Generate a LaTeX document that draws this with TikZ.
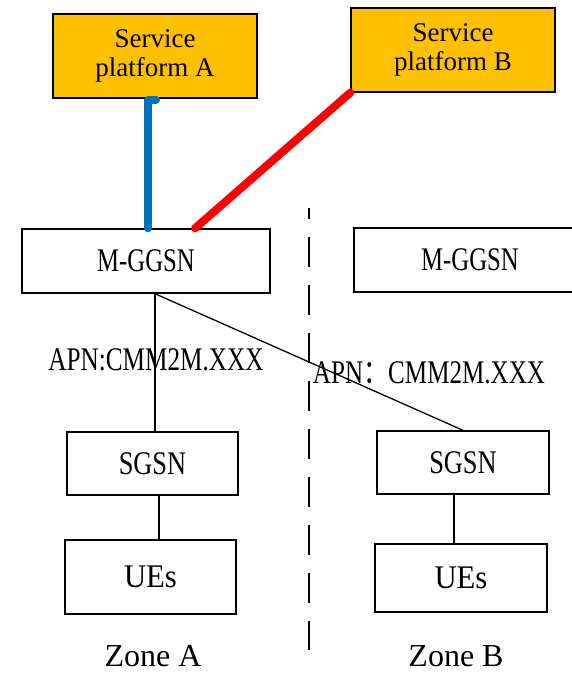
\documentclass[tikz,border=0pt]{standalone}
\usepackage{fontspec}
\usepackage{graphicx}
\setmainfont{Liberation Serif}
\newfontfamily\cjkfont{Noto Sans CJK SC}
\usetikzlibrary{calc}
\definecolor{platfill}{HTML}{FFC000}
\definecolor{linkblue}{HTML}{0070C0}
\definecolor{linkred}{HTML}{FF0000}
% horizontally condensed text
\newcommand\narrow[2]{\scalebox{#1}[1]{#2}}
\begin{document}
\begin{tikzpicture}[x=1pt,y=-1pt,
  box/.style={draw=black,line width=1.4pt,inner sep=0pt,align=center,
    font=\fontsize{33}{36}\selectfont},
  platform/.style={box,fill=platfill,minimum width=204pt,minimum height=84pt,
    font=\fontsize{27}{29}\selectfont},
  wire/.style={line width=1.3pt},
  thick link/.style={line width=8pt,line cap=round,line join=round},
  apnlbl/.style={inner sep=0pt,font=\fontsize{33}{36}\selectfont},
  zonelbl/.style={inner sep=0pt,anchor=base,text depth=0pt,font=\fontsize{32}{36}\selectfont},
  separator/.style={line width=1.3pt,dash pattern=on 30pt off 18pt,dash phase=19pt}]
\useasboundingbox (0,0) rectangle (572,674);
\clip (0,0) rectangle (572,674);

% service platforms
\node[platform] (spA) at (155,56) {Service\\platform A};
\node[platform] (spB) at (453,50) {Service\\platform B};

% gateways
\node[box,minimum width=248pt,minimum height=64pt] (mgA) at (146,261) {\narrow{0.75}{M-GGSN}};
\node[box,minimum width=232pt,minimum height=64pt] (mgB) at (470,260) {\narrow{0.75}{M-GGSN}};

% serving nodes and terminals
\node[box,minimum width=171pt,minimum height=63pt] (sgA) at (152.5,463.5) {\narrow{0.8}{SGSN}};
\node[box,minimum width=171pt,minimum height=74pt] (ueA) at (150.5,577) {\narrow{0.93}{UEs}};
\node[box,minimum width=172pt,minimum height=63pt] (sgB) at (463,462.5) {\narrow{0.8}{SGSN}};
\node[box,minimum width=172pt,minimum height=68pt] (ueB) at (461,578) {\narrow{0.93}{UEs}};

% zone captions
\node[zonelbl] (zA) at (153,666) {Zone A};
\node[zonelbl] (zB) at (456,666) {Zone B};

% reference columns for the connectors
\coordinate (xBlue) at (148,0);
\coordinate (xRed) at (195,0);
\coordinate (xDown) at (155,0);
\coordinate (xUeA) at (159,0);
\coordinate (xUeB) at (454,0);
\coordinate (sepTop) at (309,208);
\coordinate (sepBot) at (309,650);

% zone separator
\draw[separator] (sepTop) -- (sepBot);

% links from the gateway
\draw[wire] (mgA.south -| xDown) -- (sgA.north -| xDown);
\draw[wire] (mgA.south -| xDown) -- (sgB.north);
\draw[wire] (sgA.south -| xUeA) -- (ueA.north -| xUeA);
\draw[wire] (sgB.south -| xUeB) -- (ueB.north -| xUeB);

% APN labels
\node[apnlbl] (apnA) at (156,360) {\narrow{0.765}{APN:CMM2M.XXX}};
\node[apnlbl] (apnB) at (429,373) {\narrow{0.76}{APN{\cjkfont ：}CMM2M.XXX}};

% platform connections
\draw[thick link,linkblue] (mgA.north -| xBlue) -- ($(spA.south -| xBlue)+(0,1)$) -- ++(8,0);
\draw[thick link,linkred] (spB.south west) -- (mgA.north -| xRed);
\end{tikzpicture}
\end{document}
